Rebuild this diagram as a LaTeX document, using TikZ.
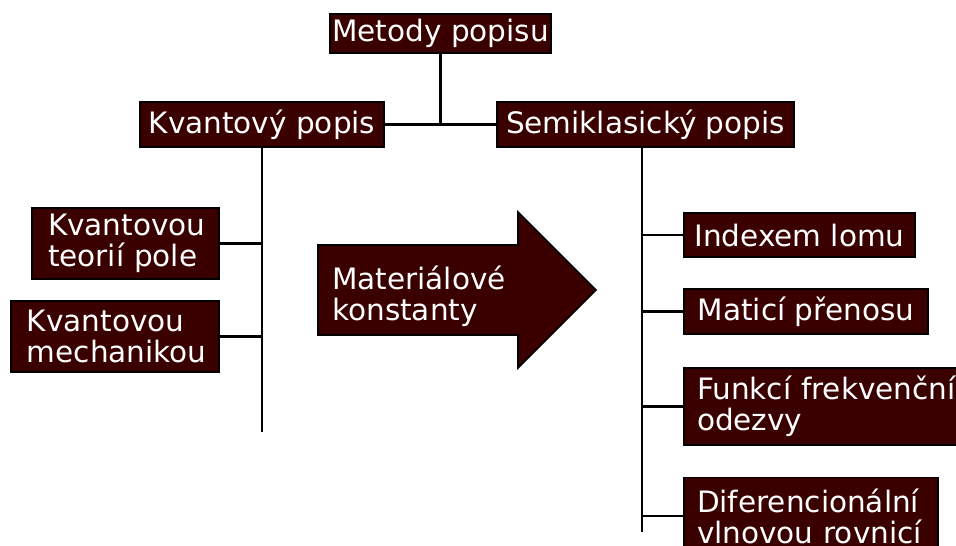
\documentclass[tikz,border=0pt]{standalone}
\usepackage{fontspec}
\setmainfont{DejaVu Sans}
\definecolor{boxfill}{RGB}{58,0,0}

\tikzset{
  pbox/.style={draw=black, line width=1.6pt, fill=boxfill, text=white,
    inner sep=0pt, font=\fontsize{29.5}{31}\selectfont},
  pline/.style={draw=black, line width=2.2pt}
}

\begin{document}
\begin{tikzpicture}[x=1pt, y=-1pt]
  \clip (0,0) rectangle (956,546);
  % top level
  \node[pbox, minimum width=221pt, minimum height=39pt] (meth) at (440.5,33.5) {Metody popisu};
  \node[pbox, minimum width=244pt, minimum height=45pt] (kvant) at (262,124.5) {Kvantový popis};
  \node[pbox, minimum width=297pt, minimum height=45pt] (semi) at (645.5,124.5) {Semiklasický popis};
  % left branch
  \node[pbox, minimum height=71pt, text width=155pt, inner xsep=16pt, align=left] (kpole) at (125.5,243.5) {Kvantovou\\teorií pole};
  \node[pbox, minimum height=71pt, text width=176pt, inner xsep=16pt, align=left] (kmech) at (115,336.5) {Kvantovou\\mechanikou};
  % right branch
  \node[pbox, minimum width=231pt, minimum height=44pt] (index) at (799.5,235) {Indexem lomu};
  \node[pbox, minimum width=244pt, minimum height=45pt] (matic) at (806,311.5) {Maticí přenosu};
  \node[pbox, minimum height=77pt, text width=270pt, inner xsep=13pt, align=left] (funk) at (832,406.5) {Funkcí frekvenční\\odezvy};
  \node[pbox, minimum height=77pt, text width=228pt, inner xsep=13pt, align=left] (difer) at (811,516) {Diferencionální\\vlnovou rovnicí};
  % big arrow
  \draw[pbox] (318,245) -- (518,245) -- (518,212) -- (596,290) -- (518,368)
    -- (518,335) -- (318,335) -- cycle;
  \node[text=white, font=\fontsize{29.5}{31}\selectfont, align=left, anchor=west, inner sep=0pt] (mat) at (332,296) {Materiálové\\konstanty};
  % connectors
  \draw[pline] (meth.south) -- (meth.south |- kvant.east);
  \draw[pline] (kvant.east) -- (semi.west);
  \coordinate (lbot) at (262,432);
  \draw[pline] (kvant.south) -- (lbot);
  \foreach \n in {kpole,kmech}
    \draw[pline] (\n.east) -- (\n.east -| lbot);
  \coordinate (rtop) at ([xshift=-3.5pt]semi.south);
  \coordinate (rbot) at (642,532);
  \draw[pline] (rtop) -- (rbot);
  \foreach \n in {index,matic,funk,difer}
    \draw[pline] (\n.west -| rbot) -- (\n.west);
\end{tikzpicture}
\end{document}
